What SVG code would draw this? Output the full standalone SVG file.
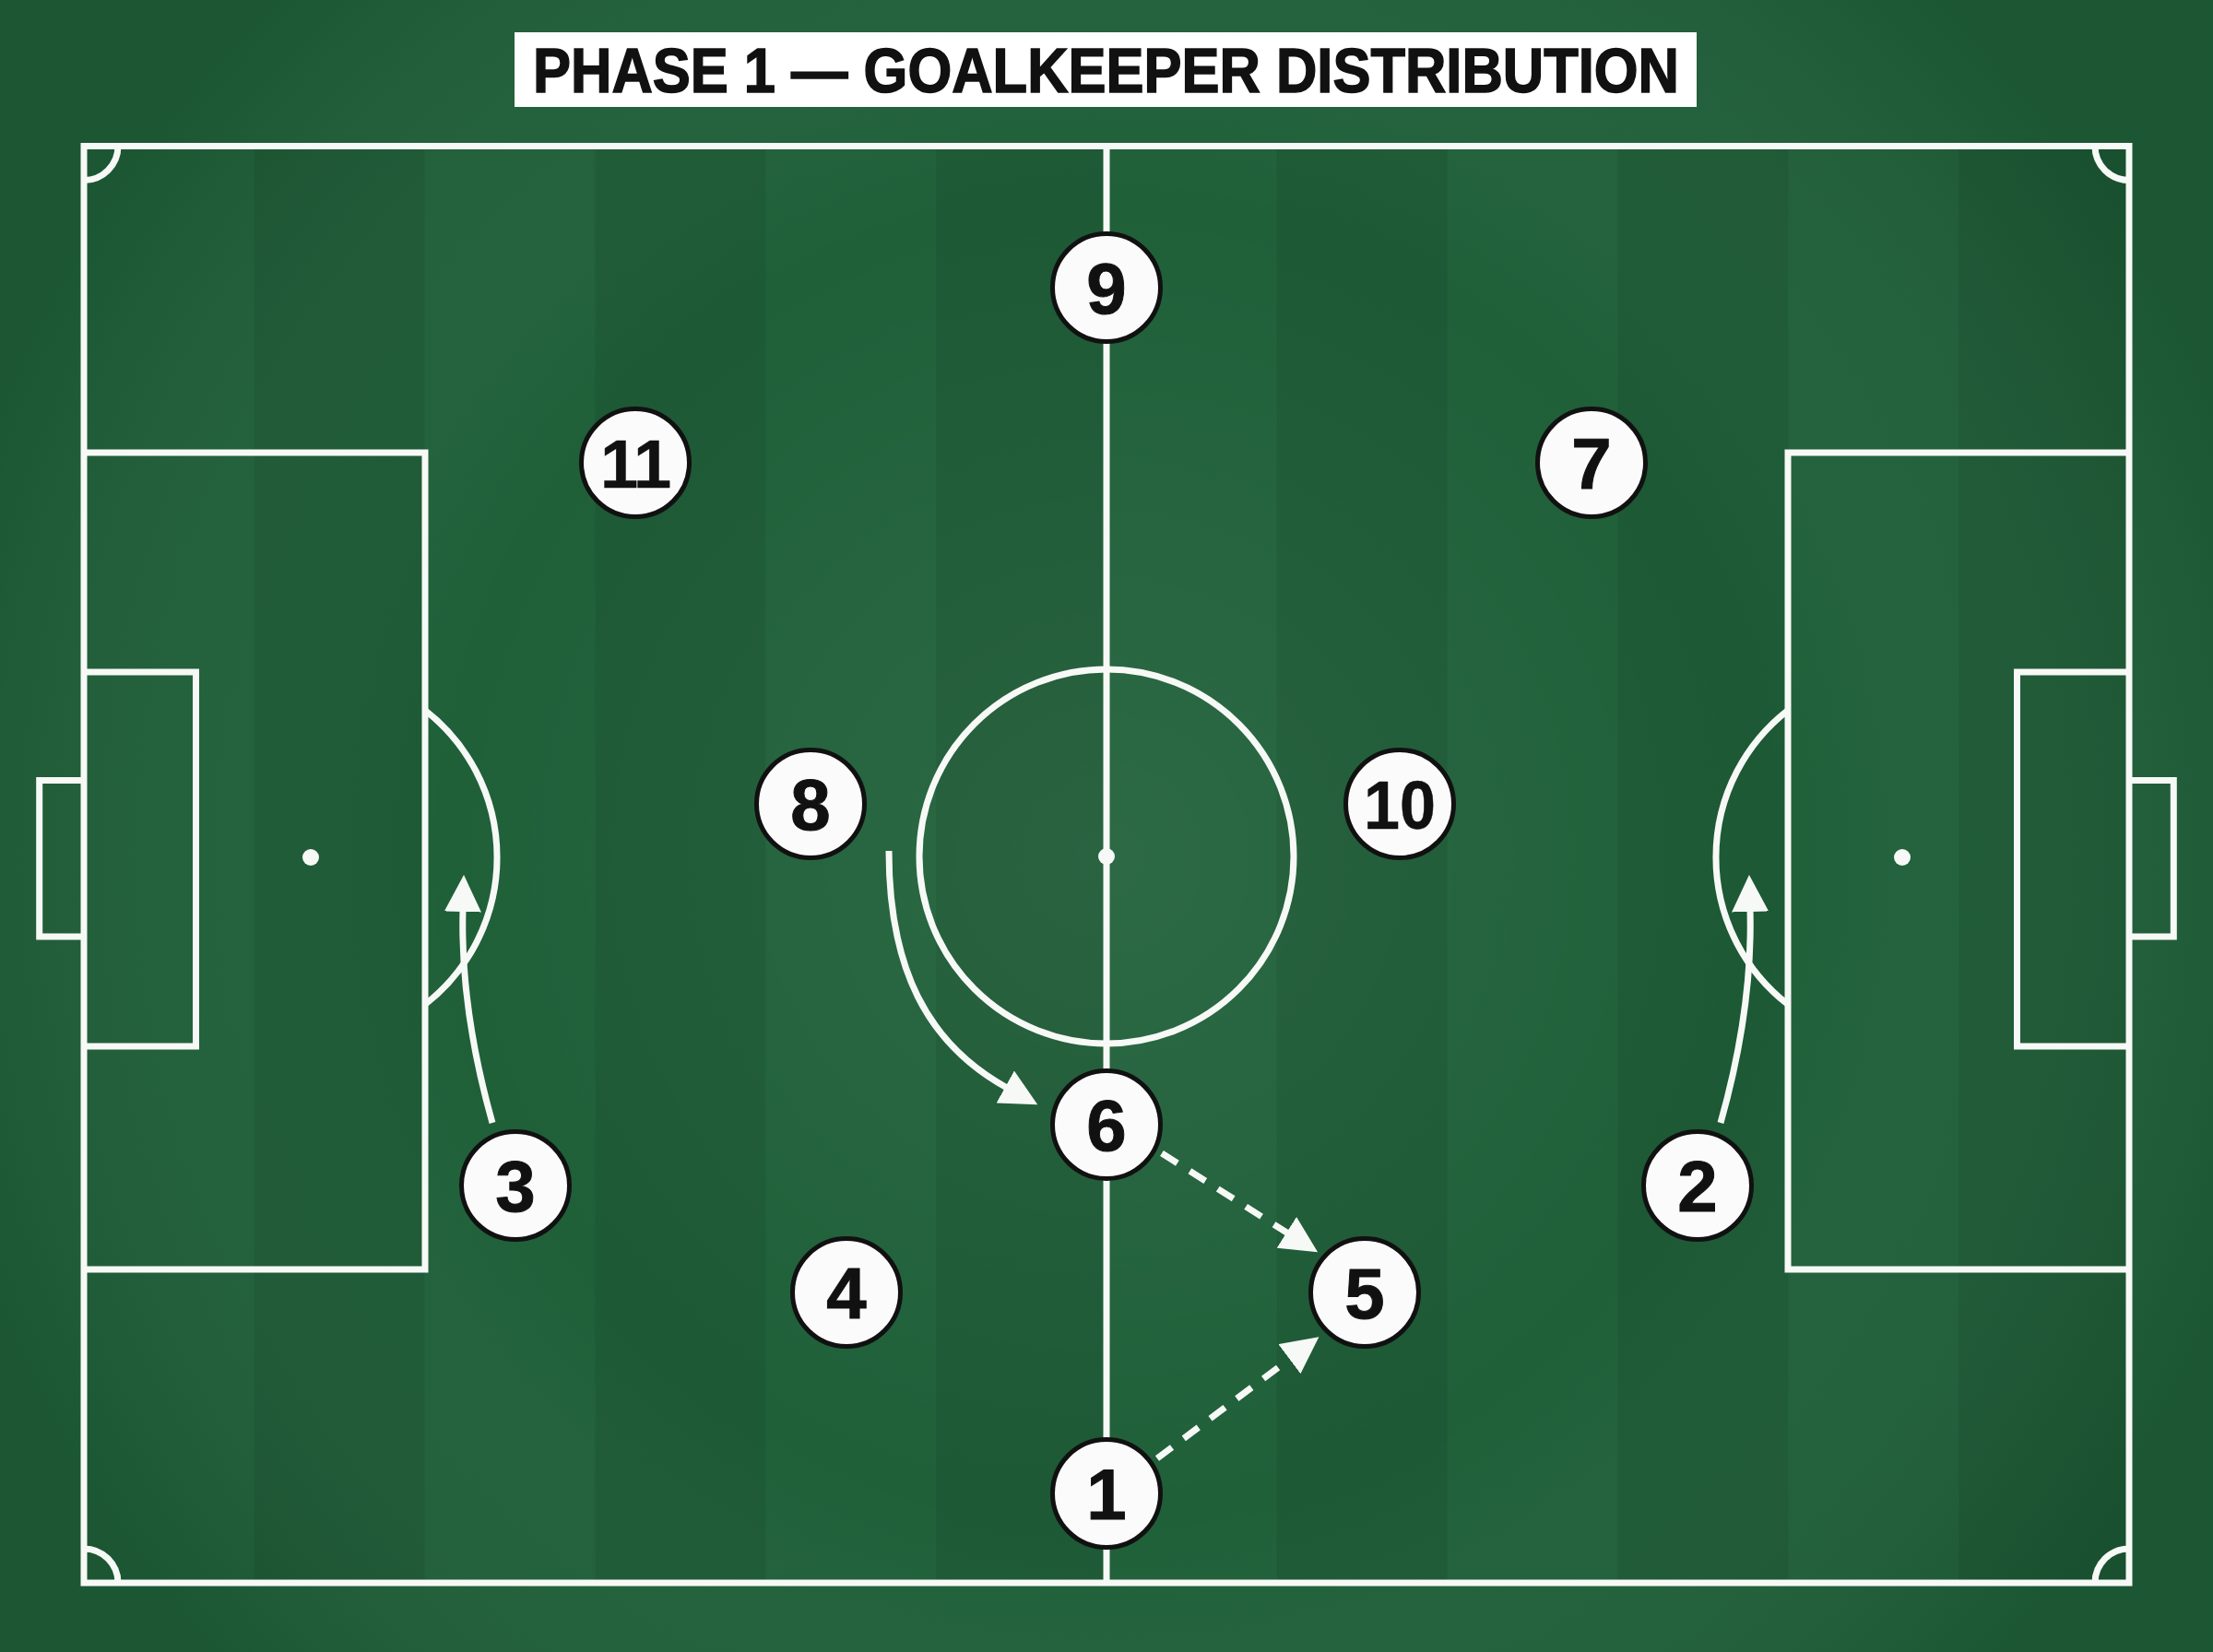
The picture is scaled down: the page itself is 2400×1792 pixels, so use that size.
<svg xmlns="http://www.w3.org/2000/svg" width="2400" height="1792" viewBox="0 0 2400 1792">
  <defs>
    <style>
      .line { fill: none; stroke: #f7f9f6; stroke-width: 7; }
      .stripe { fill: #000000; fill-opacity: 0.07; }
      .run { fill: none; stroke: #f7f9f6; stroke-width: 7; }
      .pass { fill: none; stroke: #f7f9f6; stroke-width: 7; stroke-dasharray: 20 16; }
      .player circle { fill: #fbfbfb; stroke: #111111; stroke-width: 5; }
      .player text { font-family: "Liberation Sans", Arial, sans-serif; font-weight: bold; font-size: 78px; fill: #111111; stroke: #111111; stroke-width: 1; text-anchor: middle; }
      .player text.two { font-size: 74px; stroke-width: 0.5; }
      .title { font-family: "Liberation Sans", Arial, sans-serif; font-weight: bold; font-size: 68px; fill: #111111; stroke: #111111; stroke-width: 1.5; }
    </style>
    <radialGradient id="glow" cx="1200" cy="930" r="1300" gradientUnits="userSpaceOnUse">
      <stop offset="0" stop-color="#ffffff" stop-opacity="0.06"/>
      <stop offset="0.55" stop-color="#ffffff" stop-opacity="0.0"/>
      <stop offset="1" stop-color="#000000" stop-opacity="0.10"/>
    </radialGradient>
    <marker id="head" markerUnits="userSpaceOnUse" markerWidth="40" markerHeight="40" viewBox="0 0 40 40" refX="2" refY="20" orient="auto">
      <path d="M0,0 L40,20 L0,40 Z" fill="#f7f9f6"/>
    </marker>
  </defs>

  <!-- pitch background -->
  <rect x="0" y="0" width="2400" height="1792" fill="#1f6039"/>
  <g id="stripes">
    <rect class="stripe" x="275.8" y="158" width="184.8" height="1559"/>
    <rect class="stripe" x="645.5" y="158" width="184.8" height="1559"/>
    <rect class="stripe" x="1015.2" y="158" width="184.8" height="1559"/>
    <rect class="stripe" x="1384.8" y="158" width="184.8" height="1559"/>
    <rect class="stripe" x="1754.5" y="158" width="184.8" height="1559"/>
    <rect class="stripe" x="2124.2" y="158" width="184.8" height="1559"/>
  </g>
  <rect x="0" y="0" width="2400" height="1792" fill="url(#glow)"/>

  <!-- pitch markings -->
  <g id="markings">
    <rect class="line" x="91" y="158.5" width="2218" height="1558.5"/>
    <line class="line" x1="1200" y1="158.5" x2="1200" y2="1717"/>
    <circle class="line" cx="1200" cy="929" r="203"/>
    <circle cx="1200" cy="929" r="9" fill="#f7f9f6"/>
    <!-- left end -->
    <path class="line" d="M91 491 H461 V1377 H91"/>
    <path class="line" d="M91 729 H212.5 V1135 H91"/>
    <path class="line" d="M91 846.5 H42.7 V1016 H91"/>
    <path class="line" d="M461 770.5 A202 202 0 0 1 461 1089.5"/>
    <circle cx="337" cy="930" r="9" fill="#f7f9f6"/>
    <!-- right end -->
    <path class="line" d="M2309 491 H1939 V1377 H2309"/>
    <path class="line" d="M2309 729 H2187.5 V1135 H2309"/>
    <path class="line" d="M2309 846.5 H2357.3 V1016 H2309"/>
    <path class="line" d="M1939 770.5 A202 202 0 0 0 1939 1089.5"/>
    <circle cx="2063" cy="930" r="9" fill="#f7f9f6"/>
    <!-- corners -->
    <path class="line" d="M128 158.5 A37 37 0 0 1 91 195.5"/>
    <path class="line" d="M2272 158.5 A37 37 0 0 0 2309 195.5"/>
    <path class="line" d="M91 1680 A37 37 0 0 1 128 1717"/>
    <path class="line" d="M2309 1680 A37 37 0 0 0 2272 1717"/>
  </g>

  <!-- title -->
  <g id="title">
    <rect x="558" y="35" width="1282" height="81" fill="#ffffff"/>
    <text class="title" x="578" y="100" textLength="1243" lengthAdjust="spacingAndGlyphs">PHASE 1 — GOALKEEPER DISTRIBUTION</text>
  </g>

  <!-- connectors -->
  <g id="connectors">
    <path id="run-8-6" class="run" d="M964 923 C964 1050 1005 1132 1092 1180" marker-end="url(#head)"/>
    <path id="run-3" class="run" d="M534 1218 C512 1140 500 1060 502 987" marker-end="url(#head)"/>
    <path id="run-2" class="run" d="M1866 1218 C1888 1140 1900 1060 1898 987" marker-end="url(#head)"/>
    <path id="pass-6-5" class="pass" d="M1260 1251 L1397 1338" marker-end="url(#head)"/>
    <path id="pass-1-5" class="pass" d="M1255 1582 L1400 1473" marker-end="url(#head)"/>
  </g>

  <!-- players -->
  <g id="p9" class="player"><circle cx="1200" cy="312" r="58.5"/><text x="1200" y="340">9</text></g>
  <g id="p11" class="player"><circle cx="689" cy="502" r="58.5"/><text class="two" x="689" y="529" letter-spacing="-1">11</text></g>
  <g id="p7" class="player"><circle cx="1726" cy="502" r="58.5"/><text x="1726" y="530">7</text></g>
  <g id="p8" class="player"><circle cx="879" cy="872" r="58.5"/><text x="879" y="900">8</text></g>
  <g id="p10" class="player"><circle cx="1518" cy="872" r="58.5"/><text class="two" x="1518" y="899" textLength="78" lengthAdjust="spacingAndGlyphs">10</text></g>
  <g id="p6" class="player"><circle cx="1200" cy="1220" r="58.5"/><text x="1200" y="1248">6</text></g>
  <g id="p3" class="player"><circle cx="559" cy="1286" r="58.5"/><text x="559" y="1314">3</text></g>
  <g id="p2" class="player"><circle cx="1841" cy="1286" r="58.5"/><text x="1841" y="1314">2</text></g>
  <g id="p4" class="player"><circle cx="918" cy="1402" r="58.5"/><text x="918" y="1430">4</text></g>
  <g id="p5" class="player"><circle cx="1480" cy="1402" r="58.5"/><text x="1480" y="1430">5</text></g>
  <g id="p1" class="player"><circle cx="1200" cy="1620" r="58.5"/><text x="1200" y="1648">1</text></g>
</svg>
